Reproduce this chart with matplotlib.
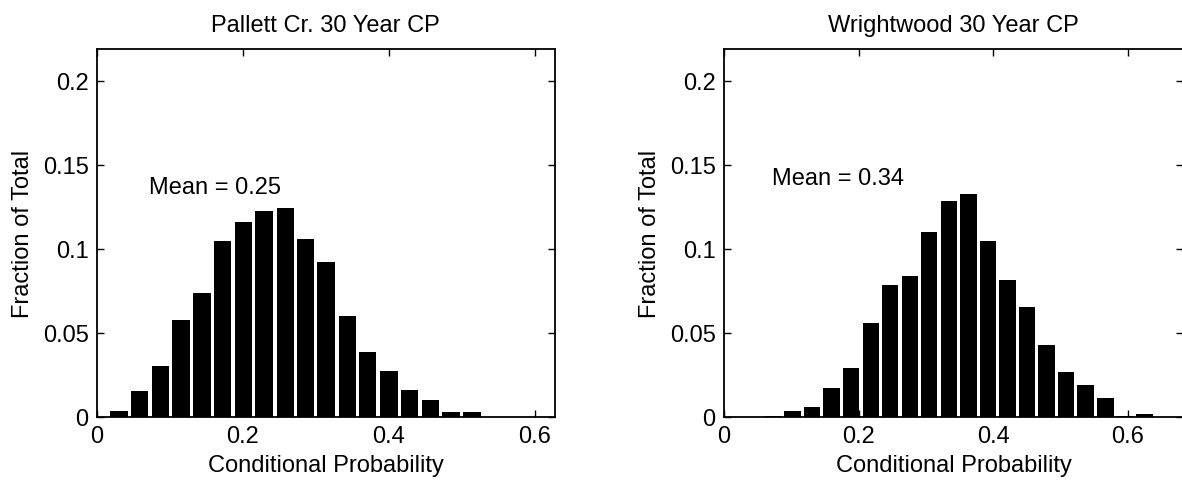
import matplotlib
matplotlib.use("Agg")
import matplotlib.pyplot as plt

# ---- data ----
pallett_centers = [0.030, 0.058, 0.087, 0.115, 0.144, 0.172, 0.201, 0.229, 0.258,
                   0.286, 0.314, 0.343, 0.371, 0.400, 0.428, 0.457, 0.485, 0.514]
pallett_values = [0.0034, 0.0153, 0.0304, 0.0575, 0.0738, 0.105, 0.116, 0.1228, 0.1242,
                  0.106, 0.092, 0.060, 0.0387, 0.0272, 0.0163, 0.0099, 0.0032, 0.0032]
wright_centers = [0.073, 0.102, 0.131, 0.160, 0.189, 0.218, 0.247, 0.276, 0.305, 0.334,
                  0.363, 0.392, 0.421, 0.450, 0.479, 0.508, 0.537, 0.567, 0.596, 0.625]
wright_values = [0.0008, 0.0034, 0.006, 0.017, 0.029, 0.056, 0.0786, 0.0841, 0.110, 0.1288,
                 0.1325, 0.1046, 0.0813, 0.0653, 0.0429, 0.0268, 0.0188, 0.0113, 0.0008, 0.0016]
titles = ["Pallett Cr. 30 Year CP", "Wrightwood 30 Year CP"]
means = ["Mean = 0.25", "Mean = 0.34"]
xticks = [0, 0.2, 0.4, 0.6]
xticklabels = ["0", "0.2", "0.4", "0.6"]
yticks = [0, 0.05, 0.1, 0.15, 0.2]
yticklabels = ["0", "0.05", "0.1", "0.15", "0.2"]

plt.rcParams['font.family'] = ['Liberation Sans', 'DejaVu Sans']
FS = 17

W, H = 1182, 485
fig = plt.figure(figsize=(W / 100, H / 100), dpi=100)

def px_axes(x0, x1, ytop, ybot):
    return fig.add_axes([x0 / W, (H - ybot) / H, (x1 - x0) / W, (ybot - ytop) / H])

ax1 = px_axes(97, 554.5, 50, 418)
ax2 = px_axes(724, 1183, 50, 418)

specs = [
    (ax1, pallett_centers, pallett_values, 0.0237, 0.627, titles[0], means[0], (0.071, 0.137)),
    (ax2, wright_centers, wright_values, 0.0244, 0.682, titles[1], means[1], (0.071, 0.142)),
]

for ax, c, v, w, xmax, title, mean, mpos in specs:
    ax.bar(c, v, width=w, color='black', edgecolor='none')
    ax.set_xlim(0, xmax)
    ax.set_ylim(0, 0.219)
    ax.set_xticks(xticks)
    ax.set_xticklabels(xticklabels)
    ax.set_yticks(yticks)
    ax.set_yticklabels(yticklabels)
    ax.tick_params(direction='in', length=5, width=1, top=True, right=True,
                   labelsize=FS, pad=6)
    for s in ax.spines.values():
        s.set_linewidth(1.3)
    ax.set_title(title, fontsize=FS, pad=13)
    ax.set_xlabel("Conditional Probability", fontsize=FS, labelpad=5)
    ax.set_ylabel("Fraction of Total", fontsize=FS, labelpad=6)
    ax.text(mpos[0], mpos[1], mean, fontsize=FS, va='center', ha='left')

fig.savefig("out.png", dpi=100)
